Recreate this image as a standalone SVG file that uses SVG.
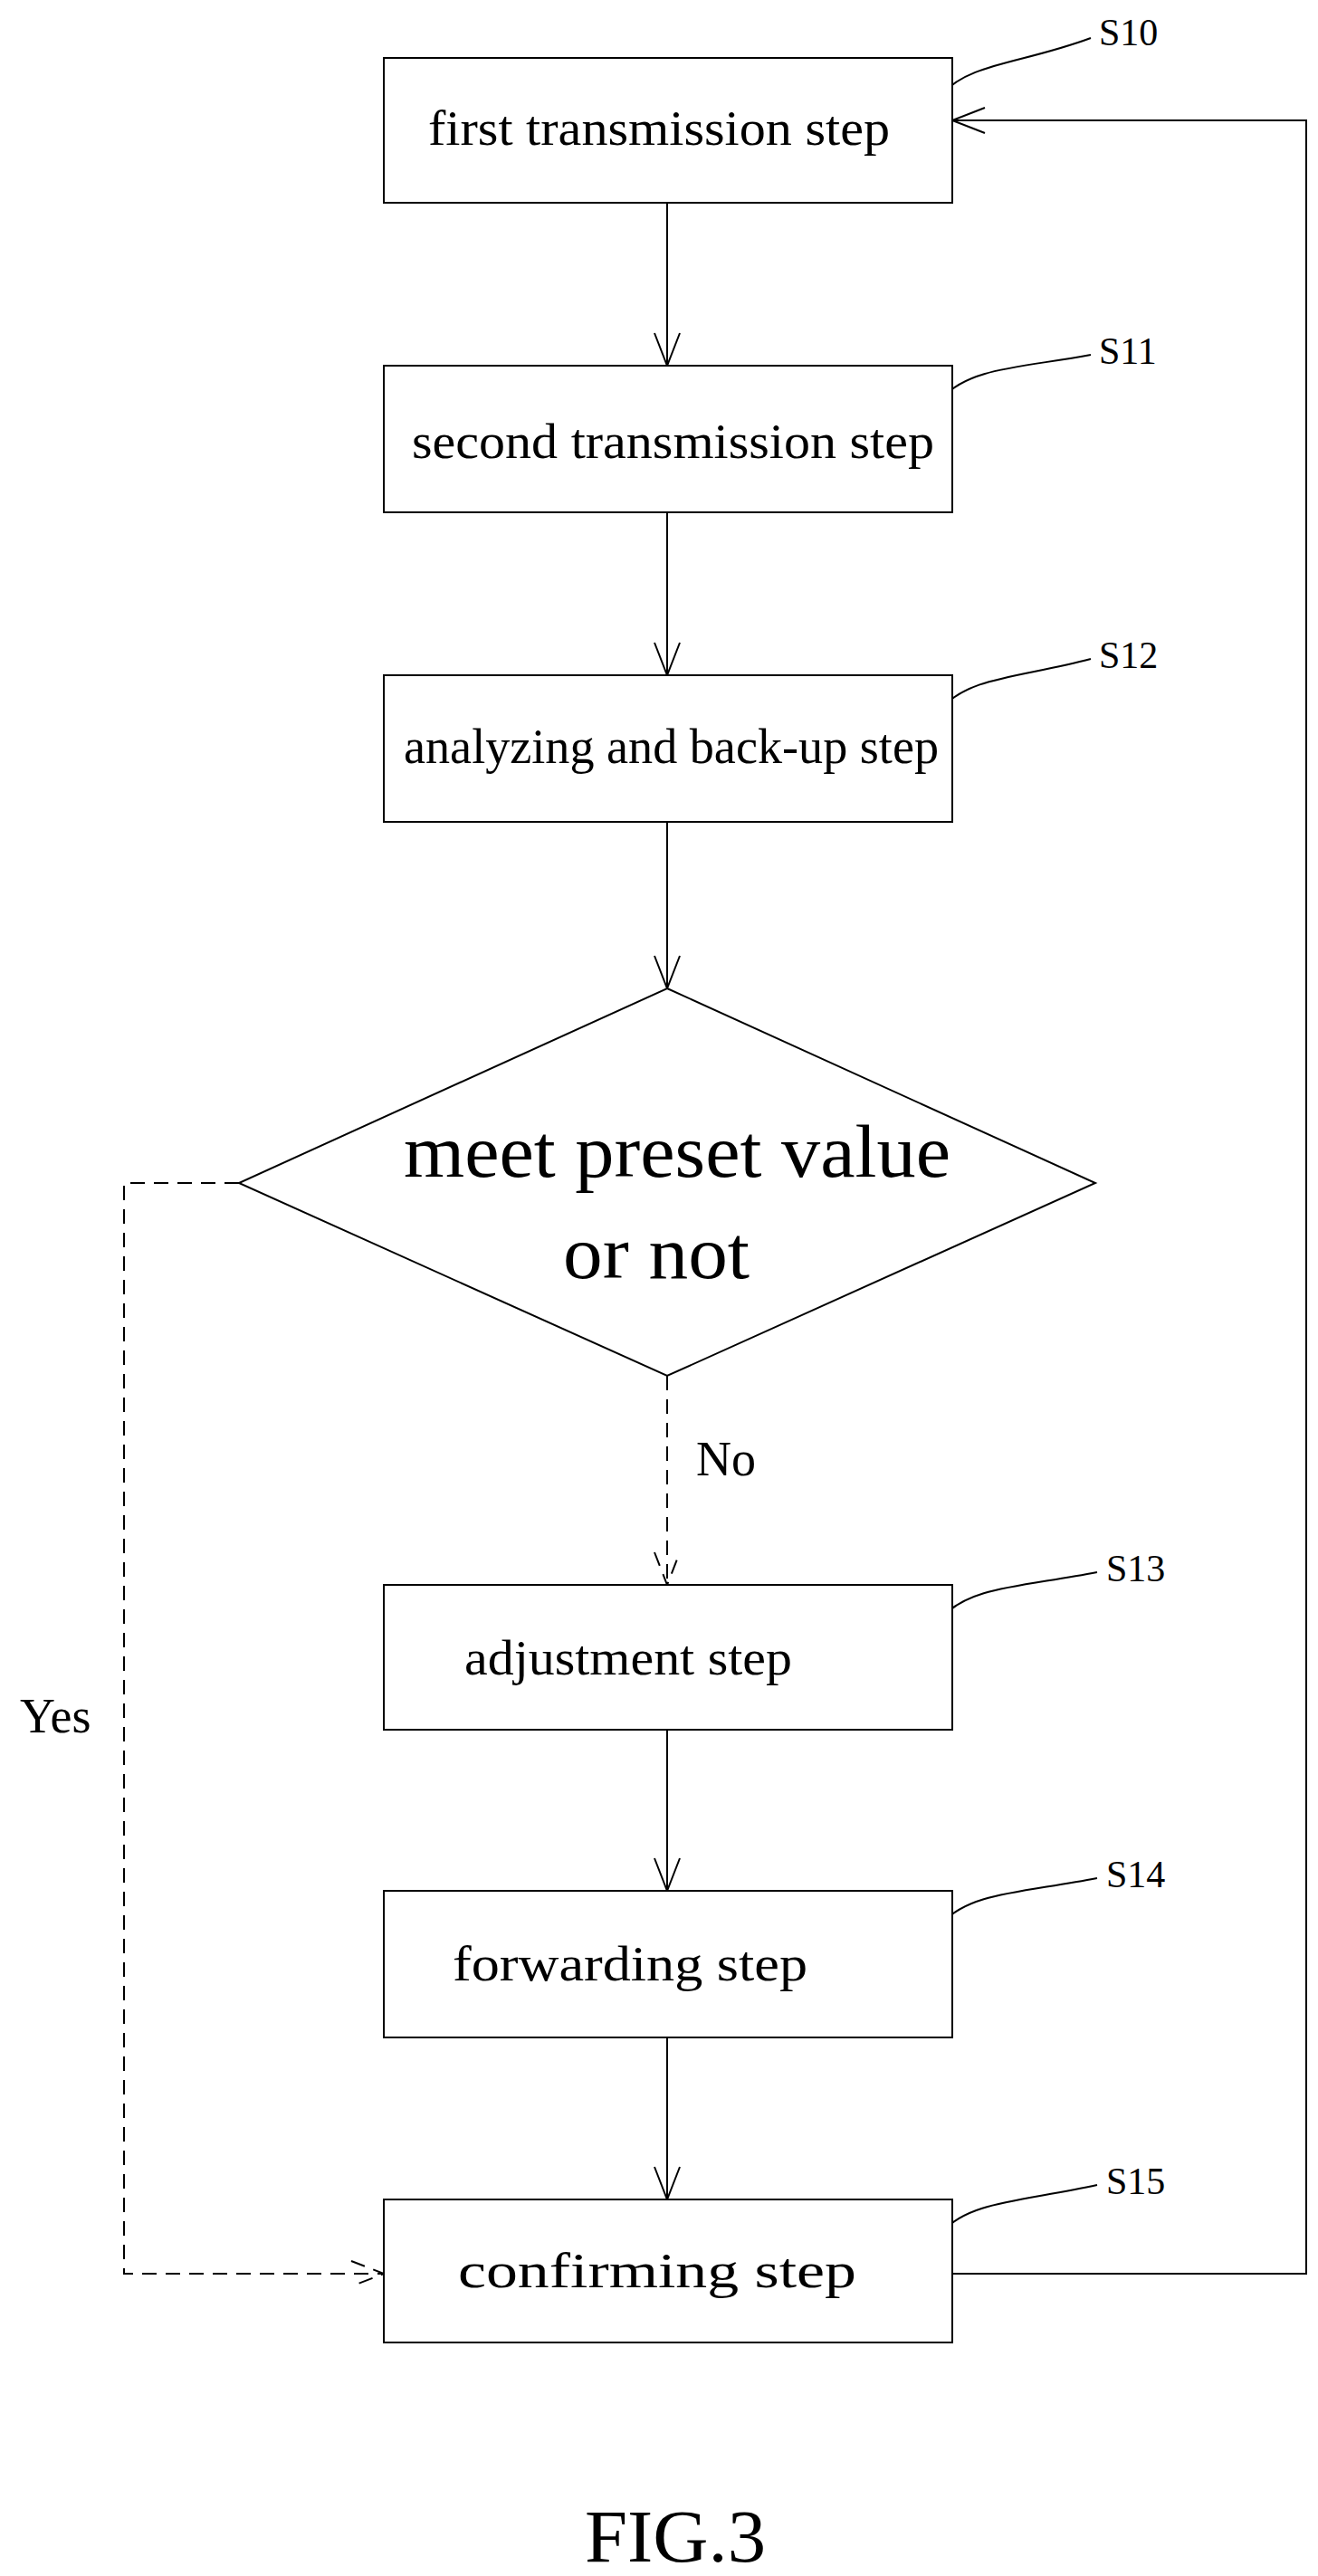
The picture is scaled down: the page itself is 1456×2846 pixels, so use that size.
<svg xmlns="http://www.w3.org/2000/svg" width="1456" height="2846" viewBox="0 0 1456 2846">
<style>
.b{fill:#fff;stroke:#000;stroke-width:2}
.t{font-family:"Liberation Serif",serif;font-size:54px;fill:#000}
.d{font-family:"Liberation Serif",serif;font-size:82px;fill:#000}
.l{font-family:"Liberation Serif",serif;font-size:42px;fill:#000}
.c{fill:none;stroke:#000;stroke-width:2}
.ds{stroke-dasharray:16 10}
</style>
<rect width="1456" height="2846" fill="#fff"/>
<g id="connectors" class="c">
<path d="M737 224V404M723 368L737 404L751 368"/>
<path d="M737 566V746M723 710L737 746L751 710"/>
<path d="M737 908V1092M723 1056L737 1092L751 1056"/>
<path class="c ds" d="M737 1520V1751M723 1715L737 1751L751 1715"/>
<path d="M737 1911V2089M723 2053L737 2089L751 2053"/>
<path d="M737 2251V2430M723 2394L737 2430L751 2394"/>
<path class="c ds" d="M264 1307H137V2512H424M388 2498L424 2512L388 2526"/>
<path d="M1052 2512H1443V133H1052M1088 119L1052 133L1088 147"/>
<path d="M1041 104C1070 70 1130 70 1205 42"/>
<path d="M1041 440C1070 406 1130 406 1205 392"/>
<path d="M1041 782C1070 748 1130 748 1205 728"/>
<path d="M1041 1787C1070 1753 1130 1753 1212 1737"/>
<path d="M1041 2125C1070 2091 1130 2091 1212 2075"/>
<path d="M1041 2466C1070 2432 1130 2432 1212 2414"/>
</g>
<g id="S10"><rect class="b" x="424" y="64" width="628" height="160"/><text class="t" x="473" y="160" textLength="510" lengthAdjust="spacingAndGlyphs">first transmission step</text><text class="l" x="1214" y="50">S10</text></g>
<g id="S11"><rect class="b" x="424" y="404" width="628" height="162"/><text class="t" x="455" y="506" textLength="577" lengthAdjust="spacingAndGlyphs">second transmission step</text><text class="l" x="1214" y="402">S11</text></g>
<g id="S12"><rect class="b" x="424" y="746" width="628" height="162"/><text class="t" x="446" y="843" textLength="591" lengthAdjust="spacingAndGlyphs">analyzing and back-up step</text><text class="l" x="1214" y="738">S12</text></g>
<g id="decision"><path class="b" d="M737 1092L1210 1307L737 1520L264 1307Z"/><text class="d" x="446" y="1300" textLength="604" lengthAdjust="spacingAndGlyphs">meet preset value</text><text class="d" x="622" y="1412" textLength="206" lengthAdjust="spacingAndGlyphs">or not</text></g>
<g id="S13"><rect class="b" x="424" y="1751" width="628" height="160"/><text class="t" x="513" y="1850" textLength="362" lengthAdjust="spacingAndGlyphs">adjustment step</text><text class="l" x="1222" y="1747">S13</text></g>
<g id="S14"><rect class="b" x="424" y="2089" width="628" height="162"/><text class="t" x="500" y="2188" textLength="392" lengthAdjust="spacingAndGlyphs">forwarding step</text><text class="l" x="1222" y="2085">S14</text></g>
<g id="S15"><rect class="b" x="424" y="2430" width="628" height="158"/><text class="t" x="506" y="2527" textLength="440" lengthAdjust="spacingAndGlyphs">confirming step</text><text class="l" x="1222" y="2424">S15</text></g>
<text class="t" x="769" y="1630">No</text>
<text class="t" x="22" y="1914">Yes</text>
<text class="d" x="646" y="2830" font-size="64" textLength="200" lengthAdjust="spacingAndGlyphs">FIG.3</text>
</svg>
